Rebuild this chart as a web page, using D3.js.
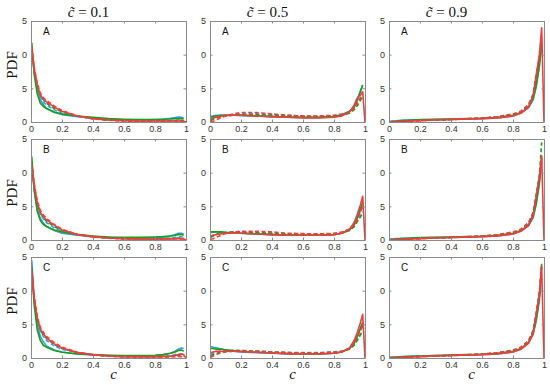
<!DOCTYPE html>
<html>
<head>
    <title>PDF grid</title>
    <script src="https://cdn.jsdelivr.net/npm/d3@7"></script>
    <style>
        body { margin: 0; background: #fff; }
    </style>
</head>
<body>
    <svg width="550" height="385" id="mainsvg"></svg>
    <script>
        // data
        const xs = [0.005, 0.02, 0.04, 0.06, 0.08, 0.1, 0.15, 0.2, 0.3, 0.4, 0.5, 0.6, 0.7, 0.8, 0.85, 0.9, 0.93, 0.95, 0.97, 0.985, 1.0];
        const columnTitles = ['0.1', '0.5', '0.9'];
        const rowLetters = ['A', 'B', 'C'];
        const xTicks = [0, 0.2, 0.4, 0.6, 0.8, 1];
        const xTickLabels = ['0', '0.2', '0.4', '0.6', '0.8', '1'];
        const yTicks = [0, 5, 10, 15];
        const yTickLabels = ['0', '5', '0', '5'];   // as printed (leading digit clipped)
        const seriesNames = ['blue', 'blueD', 'green', 'greenD', 'red', 'redD'];

        // each panel: [blue, blue dashed, green, green dashed, red, red dashed]
        const pdfA1 = [
            [11.0, 7.5, 4.8, 3.3, 2.6, 2.0, 1.4, 1.1, 0.8, 0.6, 0.4, 0.3, 0.3, 0.35, 0.4, 0.55, 0.65, 0.75, 0.7, 0.6, null],
            [10.5, 7.8, 5.2, 3.8, 3.0, 2.5, 1.8, 1.3, 0.8, 0.5, 0.3, 0.2, 0.2, 0.2, 0.2, 0.2, 0.25, 0.3, 0.3, 0.2, null],
            [11.8, 7.2, 4.2, 2.8, 2.3, 2.0, 1.5, 1.2, 0.9, 0.7, 0.5, 0.4, 0.35, 0.35, 0.4, 0.45, 0.5, 0.5, 0.5, 0.45, null],
            [11.0, 7.8, 5.3, 4.0, 3.3, 2.8, 2.0, 1.5, 0.9, 0.5, 0.3, 0.2, 0.15, 0.15, 0.15, 0.15, 0.15, 0.2, 0.2, 0.15, null],
            [10.8, 8.0, 5.5, 4.0, 3.4, 3.0, 2.2, 1.6, 0.9, 0.5, 0.3, 0.2, 0.15, 0.15, 0.15, 0.15, 0.15, 0.15, 0.15, 0.1, 0],
            [11.2, 8.2, 5.8, 4.3, 3.6, 3.2, 2.4, 1.7, 0.9, 0.45, 0.25, 0.15, 0.1, 0.1, 0.1, 0.1, 0.1, 0.1, 0.1, 0.1, null]
        ];
        const pdfA2 = [
            [0.8, 0.9, 1.0, 1.0, 1.0, 1.0, 1.0, 0.95, 0.9, 0.8, 0.7, 0.65, 0.65, 0.8, 1.1, 1.6, 2.3, 3.3, 4.6, 5.5, null],
            [0.3, 0.5, 0.7, 0.8, 0.9, 1.0, 1.1, 1.2, 1.2, 1.1, 1.0, 0.9, 0.8, 0.9, 1.0, 1.4, 2.0, 2.8, 3.6, 4.2, null],
            [0.7, 0.8, 0.9, 0.95, 1.0, 1.0, 1.0, 1.0, 0.9, 0.8, 0.75, 0.7, 0.7, 0.8, 1.0, 1.5, 2.2, 3.2, 4.5, 5.5, null],
            [0.2, 0.4, 0.6, 0.7, 0.8, 0.9, 1.0, 1.1, 1.1, 1.0, 0.9, 0.85, 0.8, 0.9, 1.0, 1.3, 1.8, 2.4, 3.2, 3.8, null],
            [0.5, 0.6, 0.7, 0.8, 0.9, 0.95, 1.0, 1.0, 0.9, 0.8, 0.7, 0.6, 0.6, 0.7, 0.9, 1.5, 2.5, 3.6, 4.0, 4.5, 0],
            [0.0, 0.1, 0.3, 0.5, 0.7, 0.9, 1.2, 1.4, 1.4, 1.2, 1.0, 0.9, 0.9, 1.0, 1.2, 1.5, 2.0, 2.8, 3.5, 4.0, null]
        ];
        const pdfA3 = [
            [0.05, 0.1, 0.15, 0.2, 0.25, 0.3, 0.3, 0.3, 0.35, 0.4, 0.45, 0.5, 0.6, 0.9, 1.3, 2.1, 3.3, 5.2, 8.2, 11.5, null],
            [0.02, 0.05, 0.1, 0.12, 0.15, 0.18, 0.2, 0.25, 0.3, 0.35, 0.45, 0.55, 0.7, 1.0, 1.4, 2.3, 3.6, 5.6, 8.5, 12.0, null],
            [0.02, 0.05, 0.1, 0.15, 0.2, 0.22, 0.3, 0.35, 0.4, 0.45, 0.5, 0.55, 0.7, 1.0, 1.4, 2.2, 3.5, 5.5, 8.5, 11.8, null],
            [0.02, 0.05, 0.08, 0.1, 0.12, 0.15, 0.2, 0.25, 0.3, 0.4, 0.45, 0.55, 0.75, 1.1, 1.5, 2.5, 4.0, 6.5, 9.0, 12.0, null],
            [0.0, 0.02, 0.04, 0.06, 0.08, 0.1, 0.15, 0.2, 0.3, 0.35, 0.45, 0.5, 0.6, 0.9, 1.3, 2.2, 4.0, 7.0, 10.0, 14.0, 0],
            [0.0, 0.02, 0.04, 0.06, 0.08, 0.1, 0.15, 0.2, 0.3, 0.4, 0.5, 0.6, 0.8, 1.2, 1.6, 2.6, 4.2, 7.2, 9.5, 12.5, null]
        ];
        const pdfB1 = [
            [11.5, 7.5, 4.6, 3.2, 2.5, 2.0, 1.4, 1.0, 0.7, 0.5, 0.4, 0.3, 0.3, 0.35, 0.4, 0.6, 0.8, 1.0, 1.0, 0.9, null],
            [11.0, 8.0, 5.3, 3.8, 3.1, 2.6, 1.8, 1.3, 0.8, 0.5, 0.3, 0.2, 0.2, 0.2, 0.25, 0.3, 0.4, 0.5, 0.5, 0.4, null],
            [12.4, 7.5, 4.3, 2.9, 2.3, 2.0, 1.5, 1.2, 0.8, 0.6, 0.45, 0.4, 0.4, 0.45, 0.5, 0.6, 0.7, 0.8, 0.85, 0.7, null],
            [11.5, 8.0, 5.4, 4.0, 3.3, 2.8, 2.0, 1.4, 0.8, 0.5, 0.3, 0.2, 0.15, 0.15, 0.2, 0.2, 0.25, 0.3, 0.3, 0.25, null],
            [11.0, 8.2, 5.6, 4.1, 3.5, 3.0, 2.2, 1.5, 0.8, 0.5, 0.3, 0.2, 0.15, 0.15, 0.15, 0.15, 0.2, 0.2, 0.2, 0.15, 0],
            [11.3, 8.4, 5.9, 4.4, 3.7, 3.2, 2.3, 1.6, 0.85, 0.45, 0.25, 0.15, 0.1, 0.1, 0.1, 0.15, 0.15, 0.15, 0.15, 0.1, null]
        ];
        const pdfB2 = [
            [1.1, 1.2, 1.2, 1.2, 1.1, 1.1, 1.0, 1.0, 0.9, 0.8, 0.7, 0.7, 0.7, 0.8, 1.0, 1.5, 2.2, 3.2, 4.3, 5.0, null],
            [0.5, 0.7, 0.9, 1.0, 1.1, 1.1, 1.2, 1.2, 1.1, 1.0, 0.9, 0.8, 0.8, 0.9, 1.1, 1.5, 2.0, 2.8, 3.6, 4.2, null],
            [1.2, 1.2, 1.2, 1.2, 1.2, 1.1, 1.1, 1.0, 0.9, 0.8, 0.75, 0.7, 0.7, 0.8, 1.0, 1.5, 2.3, 3.3, 4.6, 5.6, null],
            [0.4, 0.6, 0.8, 0.9, 1.0, 1.1, 1.2, 1.2, 1.1, 1.0, 0.9, 0.85, 0.85, 0.9, 1.1, 1.4, 2.0, 2.7, 3.4, 4.0, null],
            [0.6, 0.7, 0.8, 0.9, 0.95, 1.0, 1.0, 1.0, 0.9, 0.8, 0.7, 0.7, 0.7, 0.8, 1.0, 1.6, 2.6, 3.8, 5.2, 6.5, 0],
            [0.1, 0.2, 0.4, 0.6, 0.8, 0.95, 1.2, 1.3, 1.3, 1.2, 1.0, 0.95, 0.9, 1.0, 1.2, 1.6, 2.2, 3.0, 4.2, 5.0, null]
        ];
        const pdfB3 = [
            [0.1, 0.15, 0.2, 0.2, 0.25, 0.25, 0.3, 0.3, 0.35, 0.4, 0.45, 0.5, 0.6, 0.9, 1.3, 2.1, 3.3, 5.3, 8.3, 11.8, null],
            [0.05, 0.08, 0.1, 0.12, 0.15, 0.18, 0.2, 0.25, 0.3, 0.35, 0.45, 0.55, 0.7, 1.0, 1.4, 2.3, 3.6, 5.7, 8.6, 12.0, null],
            [0.05, 0.08, 0.1, 0.15, 0.2, 0.22, 0.3, 0.35, 0.4, 0.45, 0.5, 0.55, 0.7, 1.0, 1.4, 2.2, 3.5, 5.5, 8.6, 12.2, null],
            [0.02, 0.05, 0.08, 0.1, 0.12, 0.15, 0.2, 0.25, 0.3, 0.4, 0.45, 0.55, 0.75, 1.1, 1.5, 2.5, 4.0, 6.5, 9.5, 14.5, null],
            [0.0, 0.02, 0.04, 0.06, 0.08, 0.1, 0.15, 0.2, 0.3, 0.35, 0.45, 0.5, 0.6, 0.9, 1.3, 2.2, 3.8, 6.5, 9.5, 12.5, 0],
            [0.0, 0.02, 0.04, 0.06, 0.08, 0.1, 0.15, 0.2, 0.3, 0.4, 0.5, 0.6, 0.8, 1.2, 1.6, 2.6, 4.1, 6.8, 9.3, 12.0, null]
        ];
        const pdfC1 = [
            [14.5, 9.0, 5.0, 3.2, 2.4, 1.8, 1.2, 0.9, 0.6, 0.45, 0.35, 0.3, 0.3, 0.35, 0.45, 0.7, 1.0, 1.3, 1.5, 1.4, null],
            [13.0, 9.0, 5.8, 4.0, 3.2, 2.6, 1.8, 1.3, 0.8, 0.5, 0.3, 0.2, 0.2, 0.2, 0.25, 0.35, 0.5, 0.6, 0.6, 0.5, null],
            [13.5, 8.0, 4.2, 2.6, 1.9, 1.6, 1.1, 0.85, 0.6, 0.5, 0.4, 0.35, 0.35, 0.4, 0.5, 0.7, 0.9, 1.1, 1.2, 1.0, null],
            [12.5, 8.8, 5.8, 4.2, 3.4, 2.9, 2.0, 1.4, 0.8, 0.5, 0.3, 0.2, 0.15, 0.15, 0.2, 0.25, 0.3, 0.35, 0.35, 0.3, null],
            [13.0, 9.0, 6.0, 4.3, 3.6, 3.0, 2.1, 1.5, 0.8, 0.5, 0.3, 0.2, 0.2, 0.2, 0.25, 0.3, 0.4, 0.5, 0.6, 0.5, 0],
            [12.5, 9.0, 6.2, 4.6, 3.8, 3.2, 2.3, 1.6, 0.85, 0.45, 0.25, 0.15, 0.1, 0.1, 0.1, 0.15, 0.2, 0.2, 0.2, 0.15, null]
        ];
        const pdfC2 = [
            [1.7, 1.6, 1.5, 1.4, 1.3, 1.2, 1.0, 0.9, 0.8, 0.7, 0.6, 0.6, 0.6, 0.7, 0.9, 1.4, 2.2, 3.2, 4.3, 5.0, null],
            [0.5, 0.7, 0.9, 1.0, 1.1, 1.1, 1.1, 1.1, 1.0, 0.9, 0.8, 0.8, 0.8, 0.9, 1.0, 1.4, 2.0, 2.7, 3.5, 4.0, null],
            [1.4, 1.4, 1.3, 1.3, 1.3, 1.2, 1.1, 1.0, 0.85, 0.75, 0.65, 0.6, 0.6, 0.7, 0.9, 1.4, 2.2, 3.2, 4.4, 5.3, null],
            [0.3, 0.5, 0.7, 0.8, 0.9, 1.0, 1.1, 1.1, 1.0, 0.9, 0.8, 0.75, 0.75, 0.85, 1.0, 1.3, 1.9, 2.6, 3.4, 4.0, null],
            [0.8, 0.9, 1.0, 1.0, 1.0, 1.0, 1.0, 0.95, 0.85, 0.75, 0.65, 0.6, 0.6, 0.7, 0.9, 1.5, 2.6, 3.8, 5.2, 6.5, 0],
            [0.1, 0.3, 0.5, 0.7, 0.8, 0.9, 1.0, 1.0, 1.0, 0.9, 0.8, 0.75, 0.75, 0.85, 1.0, 1.4, 2.2, 3.2, 4.0, 4.8, null]
        ];
        const pdfC3 = [
            [0.1, 0.12, 0.15, 0.18, 0.2, 0.22, 0.25, 0.3, 0.35, 0.4, 0.45, 0.5, 0.6, 0.9, 1.3, 2.2, 3.5, 5.5, 8.5, 12.5, null],
            [0.05, 0.08, 0.1, 0.12, 0.15, 0.18, 0.2, 0.25, 0.3, 0.35, 0.45, 0.55, 0.7, 1.0, 1.4, 2.4, 3.8, 6.0, 9.0, 13.0, null],
            [0.05, 0.08, 0.1, 0.12, 0.15, 0.2, 0.25, 0.3, 0.35, 0.45, 0.5, 0.55, 0.7, 1.0, 1.4, 2.3, 3.6, 5.8, 9.0, 14.0, null],
            [0.02, 0.05, 0.08, 0.1, 0.12, 0.15, 0.2, 0.25, 0.3, 0.4, 0.45, 0.55, 0.75, 1.1, 1.5, 2.5, 4.0, 6.5, 9.5, 13.5, null],
            [0.0, 0.02, 0.04, 0.06, 0.08, 0.1, 0.15, 0.2, 0.3, 0.35, 0.45, 0.5, 0.6, 0.9, 1.3, 2.2, 3.8, 6.5, 9.5, 13.5, 0],
            [0.0, 0.02, 0.04, 0.06, 0.08, 0.1, 0.15, 0.2, 0.3, 0.4, 0.5, 0.6, 0.8, 1.2, 1.6, 2.6, 4.1, 6.8, 9.8, 14.0, null]
        ];
        const panels = [[pdfA1, pdfA2, pdfA3], [pdfB1, pdfB2, pdfB3], [pdfC1, pdfC2, pdfC3]];

        const svg = d3.select('svg');
        const colX = [31, 210, 389];
        const rowY = [21, 139, 257];
        const PW = 155, PH = 101;
        const colorOf = { blue: '#3a9af0', blueD: '#3a9af0', green: '#17a017', greenD: '#17a017', red: '#f23d3d', redD: '#f23d3d' };
        const labelFont = 'Liberation Sans, Arial, sans-serif';
        const serifFont = 'Liberation Serif, Times New Roman, serif';

        const x = d3.scaleLinear().domain([0, 1]).range([0, PW]);
        const y = d3.scaleLinear().domain([0, 15]).range([PH, 0]);
        const line = d3.line().defined(d => d[1] != null).x(d => x(d[0])).y(d => y(d[1]));

        panels.forEach((row, r) => {
            row.forEach((panel, c) => {
                const g = svg.append('g').attr('transform', `translate(${colX[c]},${rowY[r]})`);

                // curves: blue, green, red (red on top)
                seriesNames.forEach((name, i) => {
                    const pts = xs.map((xv, k) => [xv, panel[i][k]]);
                    g.append('path').datum(pts)
                        .attr('d', line).attr('fill', 'none')
                        .attr('stroke', colorOf[name]).attr('stroke-width', 1.6)
                        .attr('stroke-dasharray', name.endsWith('D') ? '4,2.5' : null)
                        .attr('stroke-linejoin', 'round');
                });

                // axes with inward ticks (matlab style box)
                const styleAxis = sel => {
                    sel.select('.domain').attr('stroke', '#8a8a8a');
                    sel.selectAll('.tick line').attr('stroke', '#8a8a8a');
                    sel.selectAll('.tick text').attr('fill', '#333').attr('font-family', labelFont).attr('font-size', 9);
                };
                g.append('g').attr('transform', `translate(0,${PH})`)
                    .call(d3.axisBottom(x).tickValues(xTicks).tickSizeInner(-2.5).tickSizeOuter(0).tickPadding(4)
                        .tickFormat((d, i) => xTickLabels[i]))
                    .call(styleAxis);
                g.append('g')
                    .call(d3.axisTop(x).tickValues(xTicks).tickSizeInner(-2.5).tickSizeOuter(0).tickFormat(''))
                    .call(styleAxis);
                g.append('g')
                    .call(d3.axisLeft(y).tickValues(yTicks).tickSizeInner(-2.5).tickSizeOuter(0).tickPadding(4)
                        .tickFormat((d, i) => yTickLabels[i]))
                    .call(styleAxis);
                g.append('g').attr('transform', `translate(${PW},0)`)
                    .call(d3.axisRight(y).tickValues(yTicks).tickSizeInner(-2.5).tickSizeOuter(0).tickFormat(''))
                    .call(styleAxis);

                g.append('text').attr('x', 12).attr('y', 14)
                    .attr('font-family', labelFont).attr('font-size', 10).attr('fill', '#111')
                    .text(rowLetters[r]);
            });
        });

        // column titles
        columnTitles.forEach((t, c) => {
            const txt = svg.append('text')
                .attr('x', colX[c] + PW / 2 - 20).attr('y', 17)
                .attr('text-anchor', 'middle')
                .attr('font-family', serifFont).attr('font-size', 15).attr('fill', '#111');
            txt.append('tspan').attr('font-style', 'italic').text('c\u0303');
            txt.append('tspan').text(' = ' + t);
        });

        // y labels
        const pdfY = [65, 193, 301];
        pdfY.forEach(py => {
            svg.append('text')
                .attr('transform', `translate(17,${py}) rotate(-90)`)
                .attr('text-anchor', 'middle')
                .attr('font-family', serifFont).attr('font-size', 15).attr('fill', '#111')
                .text('PDF');
        });

        // x labels
        colX.forEach(cx => {
            svg.append('text')
                .attr('x', cx + PW / 2 + 5).attr('y', 379)
                .attr('text-anchor', 'middle')
                .attr('font-family', serifFont).attr('font-style', 'italic')
                .attr('font-size', 15).attr('fill', '#111')
                .text('c');
        });
    </script>
</body>
</html>
